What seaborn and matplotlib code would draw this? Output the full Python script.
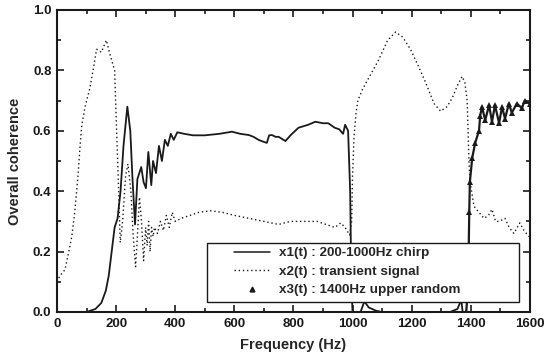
import matplotlib
matplotlib.use("Agg")
import matplotlib.pyplot as plt
import seaborn as sns
from matplotlib.lines import Line2D
from matplotlib.patches import Rectangle
from matplotlib.ticker import MultipleLocator

sns.set_theme(style="ticks")
plt.rcParams['font.family'] = ['Liberation Sans', 'DejaVu Sans']

# x1(t): 200-1000Hz chirp (solid)
x1_freq = [0, 100, 130, 150, 165, 175, 185, 195, 205, 215, 225, 238, 248, 255, 264, 272, 285, 293,
           301, 309, 319, 325, 335, 345, 355, 365, 375, 385, 395, 407, 430, 460, 500, 550, 592, 620,
           649, 665, 682, 695, 710, 718, 727, 740, 750, 773, 790, 817, 850, 874, 900, 918, 940, 955,
           968, 975, 985, 992, 996, 1000, 1020, 1040, 1055, 1080, 1100, 1330, 1355, 1368, 1375, 1600]
x1_coh = [0, 0, 0.01, 0.03, 0.07, 0.12, 0.2, 0.28, 0.31, 0.4, 0.55, 0.68, 0.6, 0.45, 0.29, 0.44, 0.48, 0.43,
          0.41, 0.53, 0.42, 0.5, 0.46, 0.55, 0.5, 0.57, 0.55, 0.59, 0.57, 0.595, 0.59, 0.585, 0.585, 0.59, 0.597, 0.59,
          0.586, 0.58, 0.57, 0.565, 0.56, 0.585, 0.586, 0.58, 0.58, 0.566, 0.585, 0.61, 0.62, 0.63, 0.625, 0.625, 0.61, 0.605,
          0.59, 0.62, 0.6, 0.4, 0.1, 0.0, -0.02, 0.035, 0.015, 0.004, 0.0, 0.0, 0.01, 0.04, -0.02, -0.02]

# x2(t): transient signal (dotted)
x2_freq = [0, 10, 27, 40, 50, 60, 71, 78, 84, 95, 111, 122, 134, 150, 167, 180, 195, 200, 207, 214,
           222, 232, 240, 250, 258, 266, 272, 279, 286, 293, 300, 305, 310, 315, 320, 325, 330, 340,
           350, 360, 370, 380, 390, 400, 420, 450, 480, 520, 560, 600, 650, 700, 750, 790, 830, 880,
           940, 960, 975, 990, 997, 1000, 1005, 1012, 1018, 1035, 1052, 1086, 1119, 1146, 1170, 1197,
           1220, 1243, 1276, 1298, 1320, 1338, 1355, 1371, 1380, 1388, 1394, 1398, 1411, 1428, 1445,
           1460, 1472, 1484, 1496, 1516, 1530, 1546, 1566, 1580, 1597]
x2_coh = [0.1, 0.12, 0.14, 0.2, 0.25, 0.33, 0.45, 0.55, 0.62, 0.68, 0.74, 0.8, 0.87, 0.86, 0.9, 0.85, 0.8, 0.65, 0.45, 0.23,
          0.3, 0.45, 0.49, 0.4, 0.25, 0.15, 0.25, 0.38, 0.3, 0.17, 0.28, 0.22, 0.3, 0.2, 0.28, 0.25, 0.28, 0.26,
          0.3, 0.27, 0.32, 0.28, 0.33, 0.3, 0.31, 0.32, 0.33, 0.335, 0.33, 0.32, 0.31, 0.3, 0.29, 0.3, 0.3, 0.3,
          0.28, 0.295, 0.28, 0.255, 0.3, 0.45, 0.58, 0.66, 0.70, 0.74, 0.77, 0.83, 0.9, 0.927, 0.91, 0.868,
          0.82, 0.77, 0.69, 0.665, 0.68, 0.71, 0.75, 0.78, 0.76, 0.70, 0.5, 0.43, 0.35, 0.33, 0.31,
          0.32, 0.34, 0.3, 0.30, 0.31, 0.28, 0.26, 0.295, 0.27, 0.25]

# x3(t): 1400Hz upper random (triangles)
x3_freq = [1385, 1390, 1393, 1395, 1397, 1405, 1415, 1428, 1432, 1438, 1449, 1462, 1472, 1482,
           1496, 1506, 1516, 1529, 1539, 1556, 1573, 1583, 1600]
x3_coh = [0.0, 0.08, 0.2, 0.33, 0.43, 0.51, 0.56, 0.60, 0.65, 0.68, 0.635, 0.685, 0.63, 0.685,
          0.625, 0.68, 0.64, 0.69, 0.66, 0.69, 0.675, 0.70, 0.69]

labels = ["x1(t) : 200-1000Hz chirp", "x2(t) : transient signal", "x3(t) : 1400Hz upper random"]

fig = plt.figure(figsize=(5.46, 3.58), dpi=100)
ax = fig.add_axes([0.1044, 0.1285, 0.866, 0.8436])

sns.lineplot(x=x1_freq, y=x1_coh, ax=ax, color='k', lw=1.3)
sns.lineplot(x=x2_freq, y=x2_coh, ax=ax, color='k', lw=1.0, linestyle=(0, (1, 2)))
sns.lineplot(x=x3_freq, y=x3_coh, ax=ax, color='k', lw=1.6, marker='^', markersize=4,
             markeredgewidth=0)

ax.set_xlim(0, 1600)
ax.set_ylim(0, 1.0)
ax.xaxis.set_major_locator(MultipleLocator(200))
ax.xaxis.set_minor_locator(MultipleLocator(100))
ax.yaxis.set_major_locator(MultipleLocator(0.2))
ax.yaxis.set_minor_locator(MultipleLocator(0.1))
ax.yaxis.set_major_formatter(plt.FormatStrFormatter('%.1f'))
ax.tick_params(which='both', direction='in', top=True, right=True, width=1.2, colors='k',
               labelsize=9.5, pad=4)
ax.tick_params(which='major', length=5)
ax.tick_params(which='minor', length=3)
for lab in ax.get_xticklabels() + ax.get_yticklabels():
    lab.set_fontweight('bold')
for sp in ax.spines.values():
    sp.set_linewidth(1.5)
    sp.set_color('k')

ax.set_xlabel("Frequency (Hz)", fontsize=10.5, fontweight='bold', labelpad=6)
ax.set_ylabel("Overall coherence", fontsize=10.5, fontweight='bold', labelpad=8)

# legend frame drawn as a wide white box, as in the original
ax.add_patch(Rectangle((0.317, 0.033), 0.66, 0.195, transform=ax.transAxes,
                       facecolor='white', edgecolor='k', lw=1.0, zorder=4))
handles = [Line2D([], [], color='k', lw=1.1),
           Line2D([], [], color='k', lw=1.0, linestyle=(0, (1, 2))),
           Line2D([], [], color='k', lw=0, marker='^', markersize=3.5)]
leg = ax.legend(handles, labels, loc='upper left', bbox_to_anchor=(0.374, 0.215),
                prop={'size': 9.7, 'weight': 'bold'}, frameon=False,
                handlelength=2.7, handletextpad=0.65, borderpad=0, labelspacing=0.45,
                borderaxespad=0)
leg.set_zorder(5)

fig.savefig("out.png", dpi=100)
